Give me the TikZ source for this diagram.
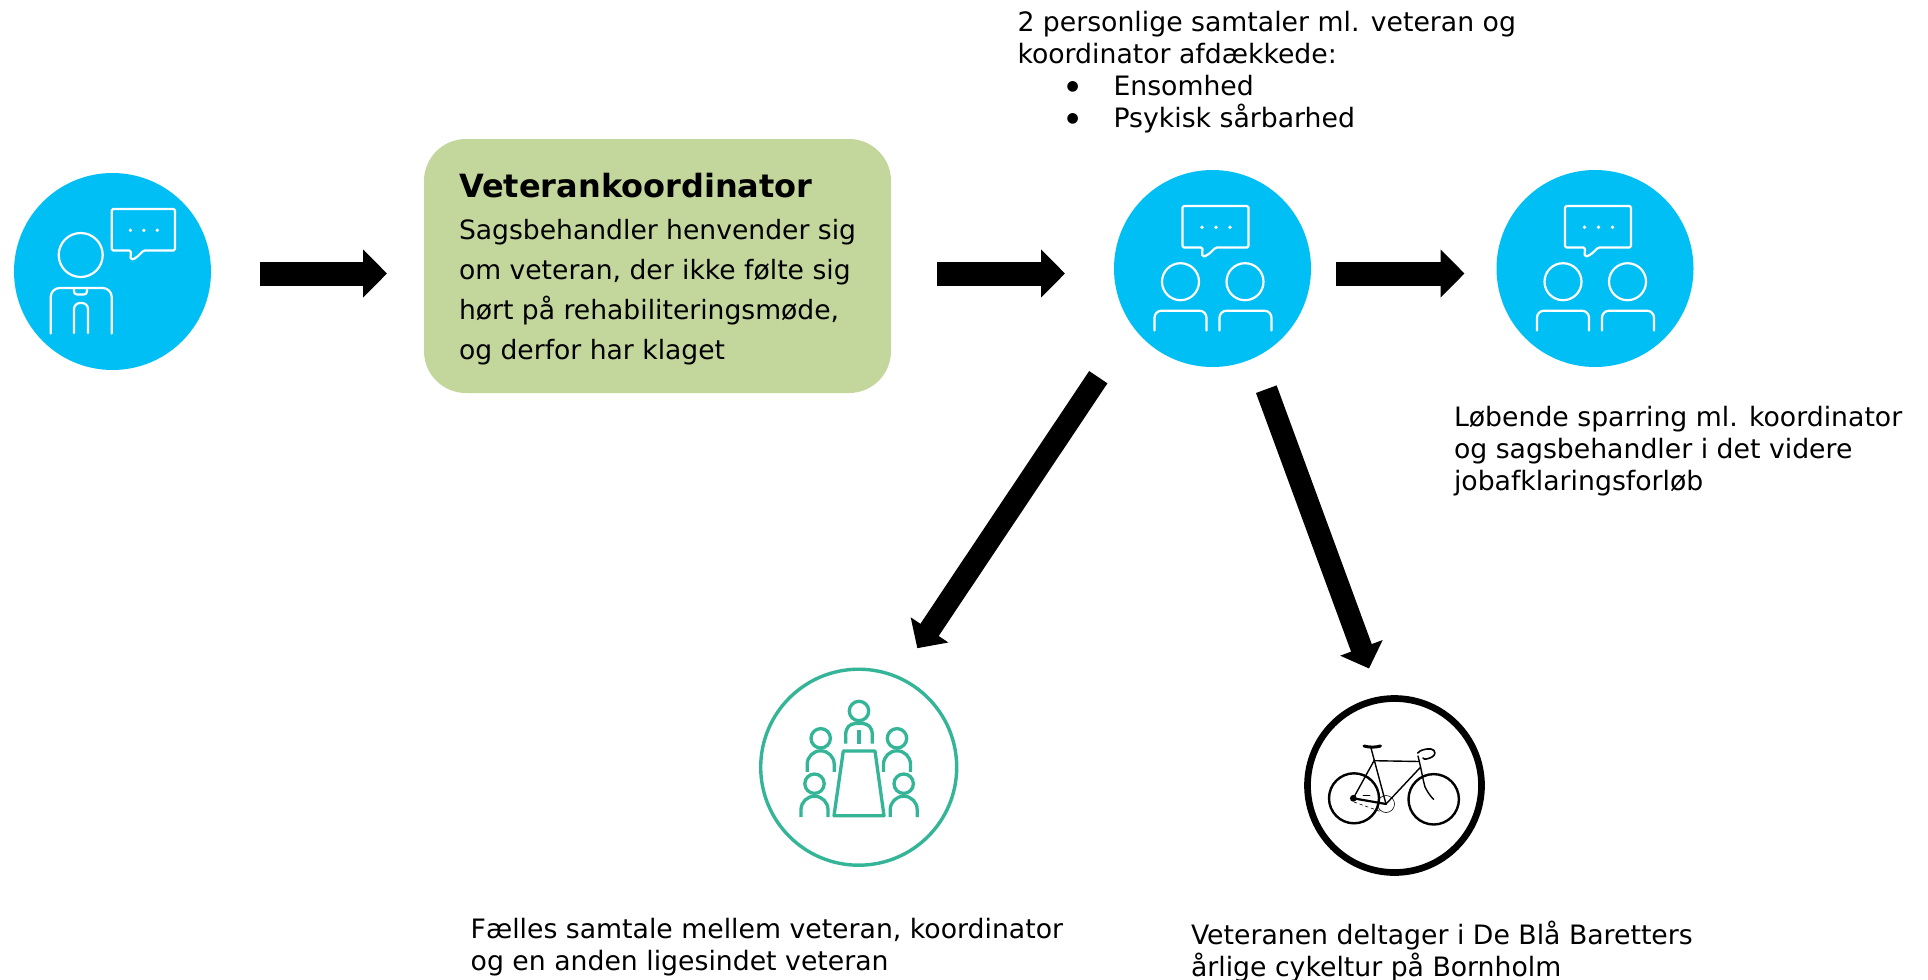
\documentclass[tikz,border=0pt]{standalone}
\usepackage{fontspec}
\setmainfont{DejaVu Sans}
\usetikzlibrary{arrows.meta,calc}
\definecolor{iconblue}{HTML}{00BFF5}
\definecolor{boxgreen}{HTML}{C3D69B}
\definecolor{teal}{HTML}{35B597}
\newcommand{\bigdot}{\makebox[96pt][l]{\hspace{49pt}\raisebox{4.5pt}{\fontsize{14}{14}\selectfont ●}}}
\tikzset{
  bluedisc/.style={circle,fill=iconblue,minimum size=197pt,inner sep=0pt,outer sep=0pt},
  ringteal/.style={circle,draw=teal,line width=3.4pt,minimum size=196pt,inner sep=0pt,outer sep=0pt},
  ringblack/.style={circle,draw=black,line width=6.7pt,minimum size=174pt,inner sep=0pt,outer sep=0pt},
  bigarrow/.style={line width=24pt,-{Triangle[length=24pt,width=47pt]}},
  diagarrow/.style={line width=22pt,-{Triangle[length=22pt,width=44pt]}},
  iconline/.style={draw=white,line width=2.2pt,line cap=round,line join=round},
  tealline/.style={draw=teal,line width=3.3pt,line join=round},
  bodytext/.style={inner sep=0pt,outer sep=0pt,align=left,anchor=north west,text=black,font=\fontsize{26.7}{32}\selectfont},
  boxtext/.style={bodytext,font=\fontsize{26.6}{40}\selectfont},
  pics/bubble/.style={code={
    \draw[iconline,rounded corners=1.5pt] (0,0) -- (66,0) -- (66,41.5) -- (33,41.5) .. controls (28,47) and (24,50) .. (20,50.5) .. controls (19.5,48) and (20,44) .. (20,41.5) -- (0,41.5) -- cycle;
    \foreach \dx in {19.5,33.5,47.5}{\fill[white] (\dx,21.3) circle (1.9pt);}
  }},
  pics/duo/.style={code={
    \pic at (-30,-62.5) {bubble};
    \draw[iconline] (-32,13.2) circle (18.5pt);
    \draw[iconline] (32.5,13.2) circle (18.5pt);
    \draw[iconline,rounded corners=7pt] (-58,62) -- (-58,42.2) -- (-6,42.2) -- (-6,62);
    \draw[iconline,rounded corners=7pt] (7,62) -- (7,42.2) -- (59,42.2) -- (59,62);
  }},
  pics/sitter/.style={code={
    \draw[tealline] (0,0) circle (9.7pt);
    \draw[tealline] (-13.5,33.5) -- (-13.5,26) arc[start angle=180,end angle=0,radius=13.5pt] -- (13.5,33.5);
  }},
}
\begin{document}
\begin{tikzpicture}[x=1pt,y=-1pt]
\useasboundingbox (0,0) rectangle (1928,980);
\fill[white] (0,0) rectangle (1928,980);

% nodes
\node[bluedisc] (person) at (112.5,271.5) {};
\node[fill=boxgreen,rounded corners=42pt,minimum width=467pt,minimum height=254pt,inner sep=0pt,outer sep=0pt] (box) at (657.5,266) {};
\node[bluedisc] (conv) at (1212.5,268.5) {};
\node[bluedisc] (spar) at (1595,268.5) {};
\node[ringteal] (meet) at (858.7,767.2) {};
\node[ringblack] (bike) at (1394.5,785.5) {};

% texts
\node[boxtext,anchor=north west] (boxbody) at (459,219.5) {Sagsbehandler henvender sig\\om veteran, der ikke følte sig\\hørt på rehabiliteringsmøde,\\og derfor har klaget};
\node[inner sep=0pt,anchor=base west,font=\fontsize{32}{36}\selectfont\bfseries] (boxhead) at (459,197) {Veterankoordinator};
\node[bodytext] (toptext) at (1017.5,11) {2 personlige samtaler ml. veteran og\\koordinator afdækkede:\\\bigdot Ensomhed\\\bigdot Psykisk sårbarhed};
\node[bodytext] (spartext) at (1454,406) {Løbende sparring ml. koordinator\\og sagsbehandler i det videre\\jobafklaringsforløb};
\node[bodytext] (meettext) at (470.7,918) {Fælles samtale mellem veteran, koordinator\\og en anden ligesindet veteran};
\node[bodytext] (biketext) at (1191,921) {Veteranen deltager i De Blå Baretters\\årlige cykeltur på Bornholm};

% connectors
\draw[bigarrow] ($(person.east)+(49,2)$) -- ($(box.west)+(-37,7.5)$);
\draw[bigarrow] ($(box.east)+(46,7.5)$) -- ($(conv.west)+(-49,5)$);
\draw[bigarrow] ($(conv.east)+(25,5)$) -- ($(spar.west)+(-32,5)$);
\draw[diagarrow] ($(conv.south)+(-114.2,10.2)$) -- ($(meet.north)+(58.6,-21)$);
\draw[diagarrow] ($(conv.south)+(53.8,22.2)$) -- ($(bike.north)+(-25.5,-30)$);

% person icon
\pic[xscale=0.96] at (111.7,209) {bubble};
\draw[iconline] (80.7,255) circle (22pt);
\draw[iconline,rounded corners=9pt] (50.7,333.5) -- (50.7,288) -- (111.7,288) -- (111.7,333.5);
\draw[iconline,rounded corners=3pt] (74,288) -- (74,294.5) -- (87,294.5) -- (87,288);
\draw[iconline,rounded corners=6pt] (74,333) -- (74,303) -- (88,303) -- (88,333);

% two-person icons
\pic at (conv) {duo};
\pic at (spar) {duo};

% meeting icon
\draw[tealline] (859,711) circle (9.7pt);
\draw[tealline] (845.7,743.5) -- (845.7,735) .. controls (845.7,727) and (850,724) .. (855,723.5) -- (863,723.5) .. controls (868,724) and (872.3,727) .. (872.3,735) -- (872.3,743.5);
\draw[tealline] (859,730) -- (859,743.5);
\draw[tealline] (843.3,751) -- (875,751) -- (884,815.7) -- (834,815.7) -- cycle;
\pic at (820.7,738.3) {sitter};
\pic at (897,738.3) {sitter};
\pic at (814.5,783.7) {sitter};
\pic at (903.7,783.7) {sitter};

% bicycle icon
\begin{scope}[line cap=round,line join=round,draw=black]
\draw[line width=2.4pt] (1354,798.3) circle (25pt);
\draw[line width=2.4pt] (1433.7,799.3) circle (25.2pt);
\fill (1353.3,798.3) circle (3.4pt);
\draw[line width=1.4pt] (1371,748) -- (1386,804);
\draw[line width=1.4pt] (1374,760.7) -- (1353.3,798.3);
\draw[line width=1.4pt] (1374,760.7) -- (1419.3,761.5);
\draw[line width=1.4pt] (1420.7,767) -- (1386,804);
\draw[line width=2.2pt] (1353.3,798.3) -- (1386,804);
\draw[line width=1.4pt] (1418,756) .. controls (1421,768) and (1423,780) .. (1425,787) .. controls (1428,793) and (1431,797) .. (1433.7,799.3);
\draw[line width=3pt] (1364,746) .. controls (1370,747.5) and (1375,747.5) .. (1380.5,746);
\draw[line width=1.6pt] (1417.7,753) .. controls (1420,750) and (1426,748.5) .. (1431,749) .. controls (1436,750) and (1436,755) .. (1432,757) .. controls (1428,759) and (1424,760) .. (1423,758);
\draw[line width=.6pt] (1386,804) circle (8.5pt);
\draw[line width=.6pt,dashed] (1354,802) -- (1382,812);
\draw[line width=.8pt] (1363,795.5) -- (1370,795.5);
\end{scope}
\end{tikzpicture}
\end{document}
